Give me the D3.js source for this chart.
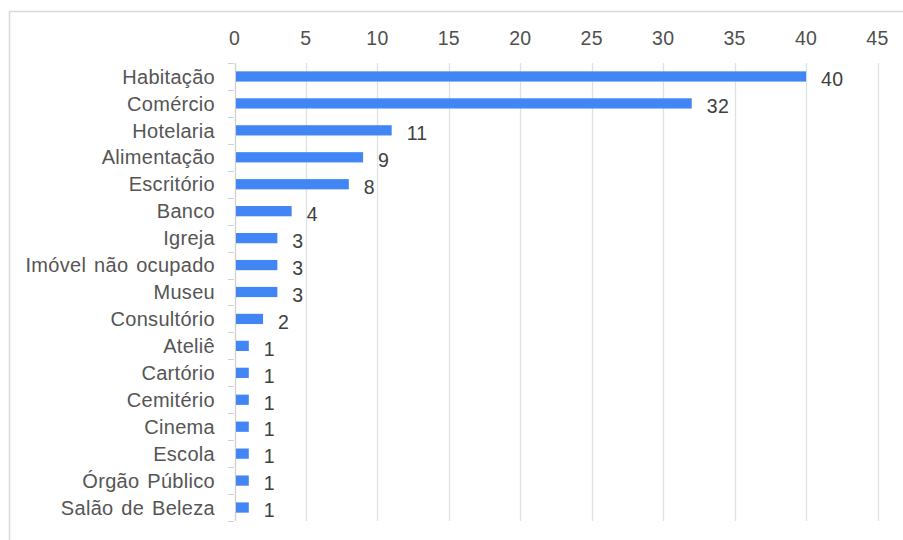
<!DOCTYPE html>
<html>
<head>
<meta charset="utf-8">
<script src="https://cdn.jsdelivr.net/npm/d3@7"></script>
<style>
  body { margin: 0; background: #fff; }
  text { font-family: "Liberation Sans", Arial, sans-serif; }
</style>
</head>
<body>
<div id="graph"></div>
<script>
// data
var categories = ["Habitação", "Comércio", "Hotelaria", "Alimentação", "Escritório", "Banco",
  "Igreja", "Imóvel não ocupado", "Museu", "Consultório", "Ateliê", "Cartório",
  "Cemitério", "Cinema", "Escola", "Órgão Público", "Salão de Beleza"];
var values = [40, 32, 11, 9, 8, 4, 3, 3, 3, 2, 1, 1, 1, 1, 1, 1, 1];
var xTicks = [0, 5, 10, 15, 20, 25, 30, 35, 40, 45];

var width = 903, height = 540;
var svg = d3.select("#graph").append("svg")
    .attr("width", width)
    .attr("height", height);

// outer frame
svg.append("rect")
    .attr("x", 9.5).attr("y", 11.5)
    .attr("width", 900).attr("height", 540)
    .attr("fill", "none")
    .attr("stroke", "#d9d9d9")
    .attr("stroke-width", 1.5);

var xScale = d3.scaleLinear().domain([0, 45]).range([234.5, 877.5]);
var yScale = d3.scaleBand().domain(categories).range([63, 521]).paddingInner(0.62).paddingOuter(0.31);

// gridlines
svg.append("g").selectAll("line").data(xTicks).enter().append("line")
    .attr("x1", d => Math.round(xScale(d)) + 0.5)
    .attr("x2", d => Math.round(xScale(d)) + 0.5)
    .attr("y1", 63).attr("y2", 521)
    .attr("stroke", d => d === 0 ? "#d0d0d0" : "#e0e0e0")
    .attr("stroke-width", 1.3);

// top axis labels
svg.append("g").selectAll("text").data(xTicks).enter().append("text")
    .attr("x", d => xScale(d))
    .attr("y", 45)
    .attr("text-anchor", "middle")
    .attr("font-size", "19.5px")
    .attr("letter-spacing", "0.3px")
    .attr("fill", "#505050")
    .text(d => d);

// category ticks at band boundaries
var bounds = d3.range(categories.length + 1).map(i => 63 + i * (458 / categories.length));
svg.append("g").selectAll("line").data(bounds).enter().append("line")
    .attr("x1", 228).attr("x2", 234)
    .attr("y1", d => Math.round(d) + 0.5).attr("y2", d => Math.round(d) + 0.5)
    .attr("stroke", "#d0d0d0");

// category labels
svg.append("g").selectAll("text").data(categories).enter().append("text")
    .attr("x", 215)
    .attr("y", d => yScale(d) + yScale.bandwidth() / 2)
    .attr("dy", "0.36em")
    .attr("text-anchor", "end")
    .attr("font-size", "20px")
    .attr("letter-spacing", "0.3px")
    .attr("word-spacing", "2px")
    .attr("fill", "#555")
    .text(d => d);

// bars
svg.append("g").selectAll("rect").data(values).enter().append("rect")
    .attr("x", xScale(0) + 1.5)
    .attr("y", (d, i) => yScale(categories[i]))
    .attr("width", d => xScale(d) - xScale(0) - 1.5)
    .attr("height", yScale.bandwidth())
    .attr("fill", "#4285f4");

// value labels
svg.append("g").selectAll("text").data(values).enter().append("text")
    .attr("x", d => xScale(d) + 15)
    .attr("y", (d, i) => yScale(categories[i]) + yScale.bandwidth() / 2)
    .attr("dy", "0.5em")
    .attr("font-size", "19.5px")
    .attr("letter-spacing", "0.3px")
    .attr("fill", "#404040")
    .text(d => d);
</script>
</body>
</html>
